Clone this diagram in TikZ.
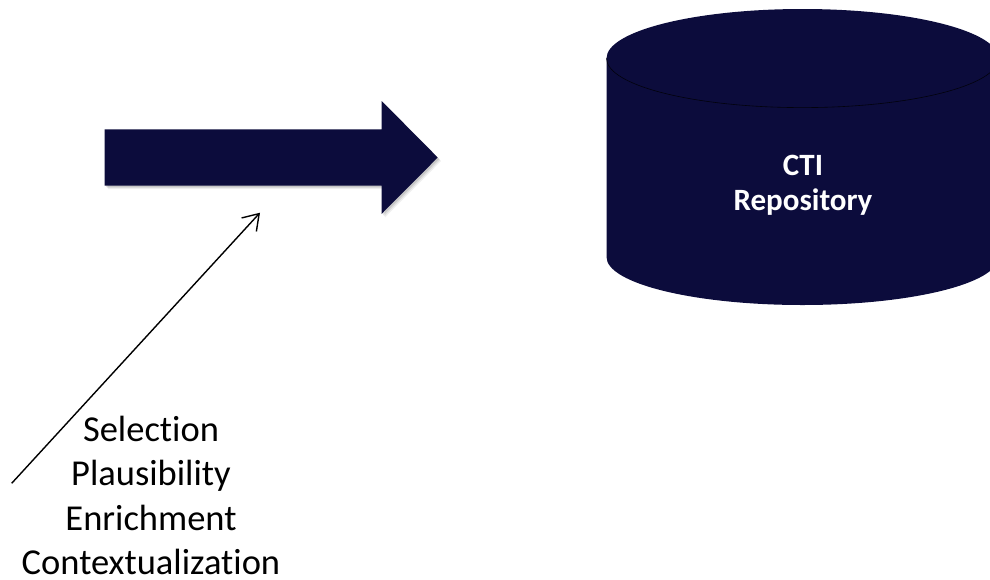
\documentclass[tikz,border=0pt]{standalone}
\usepackage{fontspec}
\setmainfont{Carlito}[Ligatures=NoCommon]
\usetikzlibrary{arrows.meta}
\definecolor{navy}{RGB}{12,12,60}
\tikzset{
  navyfill/.style={fill=navy, draw=none},
  thinarrow/.style={draw=black, line width=1.4pt, -{Straight Barb[length=15pt,width=20pt,line width=1.4pt]}},
  steplabel/.style={font=\fontsize{36.5}{44.5}\selectfont, align=center, inner sep=0pt, text=black, text depth=0pt},
  repolabel/.style={font=\fontsize{31}{35}\selectfont\bfseries, align=center, inner sep=0pt, text=white}
}
\begin{document}
\begin{tikzpicture}[x=1pt,y=-1pt]
\useasboundingbox (0,0) rectangle (990,579);
\clip (0,0) rectangle (990,579);
% block arrow shadow
\foreach \o/\op in {3.5/0.06,2.5/0.08,1.5/0.1}{
  \fill[black, opacity=\op] (104.7+\o,129.3+\o) -- (381.7+\o,129.3+\o) -- (381.7+\o,101+\o) -- (437.7+\o,157.5+\o) -- (381.7+\o,213.8+\o) -- (381.7+\o,185.7+\o) -- (104.7+\o,185.7+\o) -- cycle;
}
% block arrow
\fill[navyfill] (104.7,129.3) -- (381.7,129.3) -- (381.7,101) -- (437.7,157.5) -- (381.7,213.8) -- (381.7,185.7) -- (104.7,185.7) -- cycle;
% cylinder
\fill[navyfill] (606.5,58.3) -- (606.5,257) arc[start angle=180, end angle=0, x radius=196, y radius=48]
  -- (998.5,58.3) arc[start angle=0, end angle=-180, x radius=196, y radius=49.3] -- cycle;
\draw[black!80!navy, line width=0.6pt] (606.5,58.3) arc[start angle=180, end angle=0, x radius=196, y radius=49.3];
\node[repolabel, anchor=base] (repo) at (803,210) {CTI\\Repository};
% thin arrow
\coordinate (from) at (11.7,483.3);
\coordinate (to) at (260,212.7);
\draw[thinarrow] (from) -- (to);
\node[steplabel, anchor=base] (steps) at (151,574.5) {Selection\\Plausibility\\Enrichment\\Contextualization};
\end{tikzpicture}
\end{document}
